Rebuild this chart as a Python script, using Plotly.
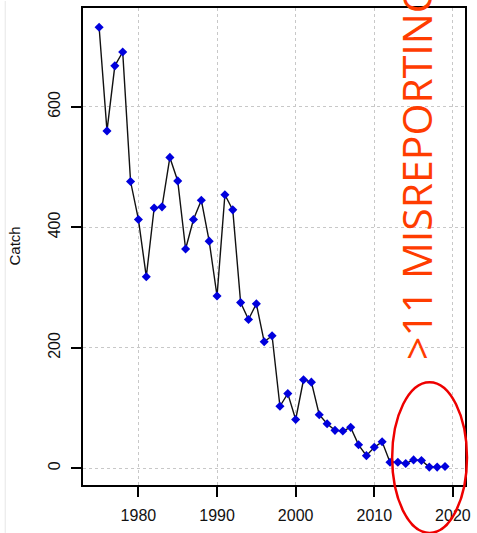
import plotly.graph_objects as go

years = list(range(1975, 2020))
catch = [732, 560, 668, 691, 476, 413, 318, 432, 434, 516,
         477, 364, 413, 445, 377, 286, 454, 429, 275, 247,
         273, 210, 220, 103, 124, 81, 147, 143, 89, 74,
         63, 62, 68, 39, 21, 35, 44, 10, 10, 8,
         14, 13, 2, 2, 3]
x_ticks = [1980, 1990, 2000, 2010, 2020]
y_ticks = [0, 200, 400, 600]
note_text = ">11 MISREPORTING"

fig = go.Figure()
fig.add_trace(go.Scatter(
    x=years, y=catch, mode="lines+markers",
    line=dict(color="#111", width=1.4),
    marker=dict(symbol="diamond", size=7, color="#0000dd"),
    showlegend=False,
))

axis_font = dict(family="Liberation Sans, Arial", size=16, color="#111")
fig.update_xaxes(
    range=[1972.95, 2021.54], tickvals=x_ticks, ticktext=[str(v) for v in x_ticks],
    showgrid=True, gridcolor="#c8c8c8", griddash="dot", gridwidth=1,
    zeroline=False, showline=True, linecolor="black", linewidth=2, mirror=True,
    ticks="outside", ticklen=10, tickwidth=2, tickcolor="black",
    tickfont=axis_font, ticklabelstandoff=5,
)
fig.update_yaxes(
    range=[-27.7, 764.0], tickvals=y_ticks, ticktext=[str(v) for v in y_ticks],
    showgrid=True, gridcolor="#c8c8c8", griddash="dot", gridwidth=1,
    zeroline=False, showline=True, linecolor="black", linewidth=2, mirror=True,
    ticks="outside", ticklen=10, tickwidth=2, tickcolor="black",
    tickfont=axis_font, tickangle=-90, ticklabelstandoff=5,
)

fig.add_annotation(
    text="Catch", textangle=-90, xref="paper", yref="paper",
    x=0, y=0.5, xanchor="center", yanchor="middle", xshift=-69,
    showarrow=False, font=dict(family="Liberation Sans, Arial", size=15, color="#111"),
)
fig.add_annotation(
    text=note_text, textangle=-90, xref="paper", yref="paper",
    x=0.8737, y=0.2678, xanchor="center", yanchor="bottom", yshift=-5,
    showarrow=False, font=dict(family="Open Sans", size=41, color="#ff3c00"),
)
fig.add_shape(
    type="circle", xref="paper", yref="paper",
    x0=0.8093, x1=1.0052, y0=-0.1004, y1=0.2155,
    line=dict(color="#ee0000", width=2.5),
)
fig.add_shape(
    type="line", xref="paper", yref="paper",
    x0=-0.2036, x1=-0.2036, y0=-0.1004, y1=1.0146,
    line=dict(color="#e6e6e6", width=1),
)

fig.update_layout(
    width=477, height=533,
    margin=dict(l=83, r=6, t=7, b=48),
    paper_bgcolor="white", plot_bgcolor="white",
)
fig.write_html(
    "out.html",
    config={"displayModeBar": False},
    post_script="document.body.style.margin='0';document.body.style.overflow='hidden';",
)
